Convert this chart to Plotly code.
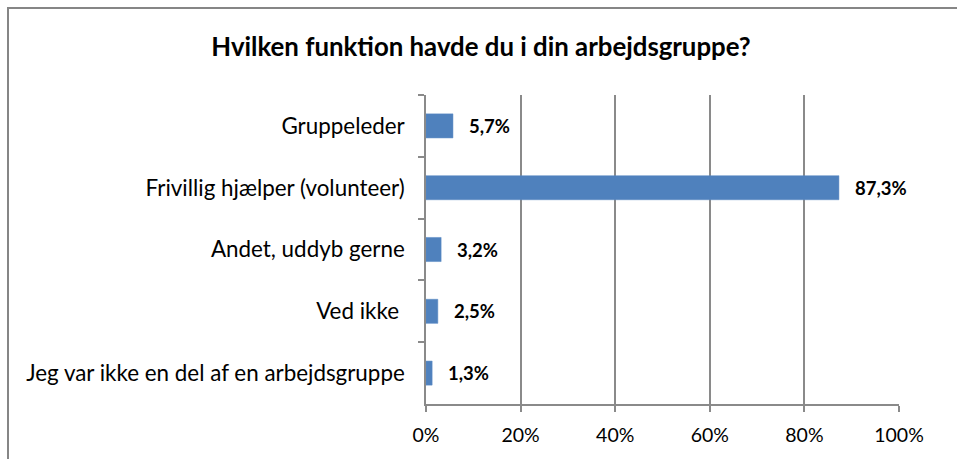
import plotly.graph_objects as go

categories = ["Gruppeleder", "Frivillig hjælper (volunteer)", "Andet, uddyb gerne",
              "Ved ikke ", "Jeg var ikke en del af en arbejdsgruppe"]
values = [5.7, 87.3, 3.2, 2.5, 1.3]
tick_vals = [0, 20, 40, 60, 80, 100]
tick_text = ["0%", "20%", "40%", "60%", "80%", "100%"]
title = "Hvilken funktion havde du i din arbejdsgruppe?"

W, H = 957, 459
L, R, T, B = 426, 899, 95, 404  # plot area pixels
FONT = "Lato"
GRID = "#8a8a8a"

fig = go.Figure(go.Bar(
    x=values, y=categories, orientation="h",
    marker=dict(color="#4F81BD", line=dict(color="#5b8ac4", width=0.5)),
    width=0.39, hoverinfo="skip",
))

for v, c in zip(values, categories):
    fig.add_annotation(x=v, y=c, text=f"<b>{v:.1f}%</b>".replace(".", ","),
                       xanchor="left", yanchor="middle", xshift=14, showarrow=False,
                       font=dict(family=FONT, size=18.5, color="#000000"))

def px_x(p):
    return (p - L) / (R - L)

def px_y(p):
    return (B - p) / (B - T)

# chart border: rectangle whose right and bottom edges fall outside the canvas
fig.add_shape(type="rect", xref="paper", yref="paper",
              x0=px_x(8), x1=px_x(1000), y0=px_y(8), y1=px_y(520),
              line=dict(color="#868686", width=2), fillcolor="rgba(0,0,0,0)",
              layer="below")

fig.update_layout(
    width=W, height=H,
    margin=dict(l=L, r=W - R, t=T, b=H - B, pad=0),
    paper_bgcolor="white", plot_bgcolor="white",
    showlegend=False,
    title=dict(text=f"<b>{title}</b>", x=481 / W, xref="container", xanchor="center",
               y=1 - 47 / H, yanchor="middle",
               font=dict(family=FONT, size=25.8, color="#000000")),
    font=dict(family=FONT, color="#000000"),
)

fig.update_xaxes(range=[0, 100], tickvals=tick_vals, ticktext=tick_text,
                 showgrid=True, gridcolor=GRID, gridwidth=1.5,
                 showline=True, linecolor=GRID, linewidth=1.5,
                 ticks="outside", ticklen=6, tickcolor=GRID, tickwidth=1.5,
                 ticklabelstandoff=7,
                 tickfont=dict(family=FONT, size=19.5, color="#000000"),
                 zeroline=False, fixedrange=True)
fig.update_yaxes(categoryorder="array", categoryarray=categories, autorange="reversed",
                 showgrid=False, showline=True, linecolor=GRID, linewidth=1.5,
                 ticks="outside", ticklen=6, tickcolor=GRID, tickwidth=1.5,
                 tickson="boundaries", ticklabelstandoff=15,
                 tickfont=dict(family=FONT, size=22.4, color="#000000"),
                 fixedrange=True)

fig.write_html("out.html", config={"displayModeBar": False},
               post_script="document.body.style.margin='0';document.body.style.overflow='hidden';")
